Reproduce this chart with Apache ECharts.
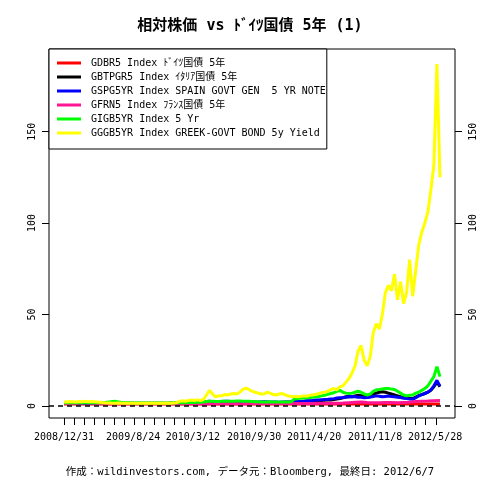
<!DOCTYPE html>
<html><head><meta charset="utf-8">
<script src="https://cdn.jsdelivr.net/npm/echarts@6/dist/echarts.min.js"></script>
<style>html,body{margin:0;padding:0;background:#fff}#c{width:480px;height:480px}</style>
</head><body><div id="c"></div>
<script>
// ---- data (ratio of each 5y yield to the German 5y yield) ----
const seriesNames = [
  'GDBR5 Index ﾄﾞｲﾂ国債 5年',
  'GBTPGR5 Index ｲﾀﾘｱ国債 5年',
  'GSPG5YR Index SPAIN GOVT GEN  5 YR NOTE',
  'GFRN5 Index ﾌﾗﾝｽ国債 5年',
  'GIGB5YR Index 5 Yr',
  'GGGB5YR Index GREEK-GOVT BOND 5y Yield'
];
const seriesColors = ['#ff0000', '#000000', '#0000ff', '#ff1493', '#00ff00', '#ffff00'];

const germany = [1,1,1,1,1,1,1,1,1,1,1,1,1,1,1,1,1,1,1,1,1,1,1,1,1,1,1,1,1,1,1,1];
const italy = [1.5,1.5,1.5,1.5,1.5,1.5,1.5,1.5,1.5,1.5,1.5,1.5,
  1.4,1.4,1.4,1.4,1.4,1.4,1.4,1.4,1.4,1.4,1.4,1.4,1.4,1.4,1.4,1.4,1.4,1.4,1.4,1.4,1.4,1.4,1.4,1.4,1.4,1.4,
  1.5,1.5,1.6,1.6,1.7,1.7,1.8,1.8,1.9,
  2.0,2.2,2.0,2.0,2.0,2.1,2.1,2.0,2.0,2.0,2.0,1.9,1.9,1.9,
  1.9,1.9,1.9,1.9,2.0,2.0,2.0,1.9,1.9,1.9,1.9,1.9,2.0,2.0,2.0,
  2.1,2.2,2.3,2.4,2.5,2.6,2.7,2.8,
  2.9,3.0,3.1,3.2,3.3,3.5,3.8,4.0,
  4.5,5.0,5.2,5.0,5.5,5.8,5.6,5.2,
  5.2,5.8,6.5,7.0,7.5,7.8,7.5,7.0,6.5,6.0,5.5,
  5.0,4.8,4.5,4.2,4.0,
  4.8,5.6,6.2,6.8,
  7.5,8.6,10.5,13.0,10.5];
const spain = [1.4,1.4,1.4,1.4,1.4,1.4,1.4,1.4,1.4,1.4,1.4,1.4,
  1.3,1.3,1.3,1.3,1.3,1.3,1.3,1.3,1.3,1.3,1.3,1.3,1.3,1.3,1.3,1.3,1.3,1.3,1.3,1.3,1.3,1.3,1.3,1.4,1.4,1.4,
  1.5,1.6,1.6,1.7,1.8,1.8,1.9,2.0,2.0,
  2.4,2.6,2.3,
  2.2,2.3,2.4,2.5,2.5,2.4,2.3,2.3,2.2,2.2,2.2,
  2.2,2.2,2.1,2.1,2.2,2.3,2.2,2.1,2.1,2.1,2.0,2.1,2.1,2.1,2.1,
  2.2,2.3,2.4,2.6,2.8,2.9,3.0,3.2,
  3.3,3.4,3.5,3.6,3.8,4.0,4.3,4.5,
  4.6,4.8,5.0,5.2,5.0,4.8,4.7,4.5,
  4.6,4.8,5.2,5.5,5.3,5.0,5.2,5.4,5.2,5.0,4.8,
  4.6,4.2,4.0,3.8,3.6,
  4.5,5.5,6.2,6.8,
  7.5,8.8,11.0,14.0,10.8];
const france = [1.3,1.3,1.5,1.6,1.6,1.5,1.3,
  1.2,1.2,1.2,1.2,1.2,1.2,1.2,1.2,1.2,1.2,1.2,1.2,1.2,1.2,1.2,1.2,1.2,1.2,1.2,1.2,1.2,1.2,1.2,1.2,1.3,1.3,1.3,1.3,1.3,1.3,1.3,1.3,1.3,
  1.3,1.3,1.4,1.4,1.5,1.5,1.6,
  1.8,2.0,2.1,1.9,1.8,
  1.8,1.9,1.9,1.8,1.9,2.0,
  2.4,2.6,2.7,2.9,3.0];
const ireland = [1.8,1.8,1.9,1.8,1.8,1.8,1.7,1.7,1.7,1.8,1.7,1.7,1.7,
  1.8,2.0,2.2,2.4,2.5,2.2,
  1.9,1.8,1.7,1.7,1.6,1.6,1.6,1.6,1.6,1.6,1.6,1.6,1.6,1.6,1.6,1.6,1.6,1.7,1.7,
  1.8,1.8,1.8,1.9,1.9,1.9,2.0,2.0,2.1,
  2.4,2.6,2.5,2.4,2.4,2.5,2.5,2.6,2.6,2.6,2.7,2.7,2.6,2.6,2.5,
  2.4,2.3,2.3,2.2,2.2,2.2,2.3,2.2,2.2,2.2,2.2,2.1,2.2,2.3,
  3.8,4.0,4.2,4.3,4.5,4.6,4.8,5.0,
  5.2,5.5,5.8,6.3,6.8,7.2,8.0,8.5,
  7.5,7.0,6.8,7.0,7.5,8.0,7.5,6.5,
  6.0,6.5,8.0,8.8,9.0,9.3,
  9.5,9.5,9.2,9.0,8.0,
  7.0,6.0,5.5,5.8,6.0,
  7.0,7.5,8.5,9.5,
  11.0,13.5,16.0,21.5,16.0];
const greece = [2.3,2.2,2.4,2.3,2.2,2.4,2.3,2.5,2.3,2.4,
  2.3,2.2,2.0,1.8,1.6,1.6,1.5,1.5,1.6,1.5,
  1.4,1.4,1.4,1.4,1.4,1.4,1.4,1.4,1.4,1.4,
  1.4,1.4,1.5,1.5,1.6,1.5,1.6,1.7,2.5,2.8,
  2.6,3.0,3.2,3.0,3.3,3.0,3.5,6.0,8.5,6.5,
  5.0,5.5,5.5,6.2,6.0,6.5,6.8,6.5,7.5,9.0,
  9.7,9.0,8.0,7.5,7.0,6.5,6.5,7.5,7.0,6.2,
  6.0,6.5,6.8,6.0,5.5,5.2,5.2,5.0,5.2,5.5,
  5.3,5.8,6.0,6.2,6.8,7.3,7.5,8.0,9.0,9.5,
  8.8,10.5,11,13,15,18,22,30,33,25,
  22,27,40,45,42,50,62,66,63,72,
  58,68,56,62,80,60,74,88,95,100,
  106,118,132,187,125];

// x axis: observation index over 2008/12/31 .. 2012/6/7
const indexSpan = 124;
const xLabelPos = [0, 22.8, 42.5, 62.7, 82.5, 102.6, 122.4];
const xLabels = ['2008/12/31', '2009/8/24', '2010/3/12', '2010/9/30', '2011/4/20', '2011/11/8', '2012/5/28'];
const yTicks = [0, 50, 100, 150];

const titleText = '相対株価 vs ﾄﾞｲﾂ国債 5年 (1)';
const footerText = '作成：wildinvestors.com, データ元：Bloomberg, 最終日: 2012/6/7';

// ---- build ----
const mono = "'DejaVu Sans Mono', 'Noto Sans CJK JP', monospace";
const allData = [germany, italy, spain, france, ireland, greece];
function pairs(arr) {
  const step = indexSpan / (arr.length - 1);
  return arr.map((v, i) => [i * step, v]);
}
const xTicks = [];
for (let k = 0; k <= 37; k++) xTicks.push(+(k * 3.314).toFixed(3));
const labelMap = {};
xLabelPos.forEach((p, i) => { labelMap[String(p)] = xLabels[i]; });

const series = allData.map((arr, i) => {
  const s = {
    name: seriesNames[i],
    type: 'line',
    data: pairs(arr),
    symbol: 'none',
    showSymbol: false,
    lineStyle: { color: seriesColors[i], width: 3 },
    itemStyle: { color: seriesColors[i] },
    silent: true
  };
  if (i === 0) {
    s.markLine = {
      symbol: 'none', silent: true, label: { show: false },
      lineStyle: { color: '#000', type: [5, 4], width: 1.5 },
      data: [{ yAxis: 0 }]
    };
  }
  return s;
});

const yAxisBase = (pos, margin) => ({
  type: 'value', position: pos, min: -6.6, max: 195.2,
  splitLine: { show: false },
  axisLine: { show: false, onZero: false },
  axisTick: { show: true, inside: false, length: 7, lineStyle: { color: '#000', width: 1 }, customValues: yTicks },
  axisLabel: { customValues: yTicks, rotate: 90, margin: margin, color: '#000', fontSize: 10, fontFamily: mono }
});

const chart = echarts.init(document.getElementById('c'), null, { renderer: 'canvas' });
chart.setOption({
  animation: false,
  backgroundColor: '#fff',
  grid: { left: 49, right: 25, top: 49, bottom: 62, show: true, borderColor: '#000', borderWidth: 1, backgroundColor: 'transparent' },
  xAxis: {
    type: 'value', min: -4.96, max: 128.96,
    splitLine: { show: false },
    axisLine: { show: false, onZero: false },
    axisTick: { show: true, inside: false, length: 7, lineStyle: { color: '#000', width: 1 }, customValues: xTicks },
    axisLabel: {
      customValues: xLabelPos,
      formatter: v => labelMap[String(v)] || '',
      margin: 14, color: '#000', fontSize: 10, fontFamily: mono
    }
  },
  yAxis: [yAxisBase('left', 12), yAxisBase('right', 13)],
  legend: {
    left: 49, top: 49, orient: 'vertical',
    data: seriesNames,
    selectedMode: false,
    backgroundColor: '#fff',
    borderColor: '#000', borderWidth: 1,
    padding: [8, 1, 10, 8],
    itemGap: 2, itemWidth: 24, itemHeight: 3,
    icon: 'rect',
    textStyle: { color: '#000', fontSize: 10, fontFamily: mono, lineHeight: 12, height: 12, padding: [0, 0, 0, 5] }
  },
  graphic: [
    { type: 'text', x: 250, y: 26, silent: true,
      style: { text: titleText, fill: '#000', align: 'center', verticalAlign: 'middle',
               font: "bold 15px 'DejaVu Sans Mono', 'Noto Sans CJK JP', monospace" } },
    { type: 'text', x: 250, y: 472, silent: true,
      style: { text: footerText, fill: '#000', align: 'center', verticalAlign: 'middle',
               font: "10.5px 'DejaVu Sans Mono', 'Noto Sans CJK JP', monospace" } }
  ],
  series: series
});
</script>
</body></html>
